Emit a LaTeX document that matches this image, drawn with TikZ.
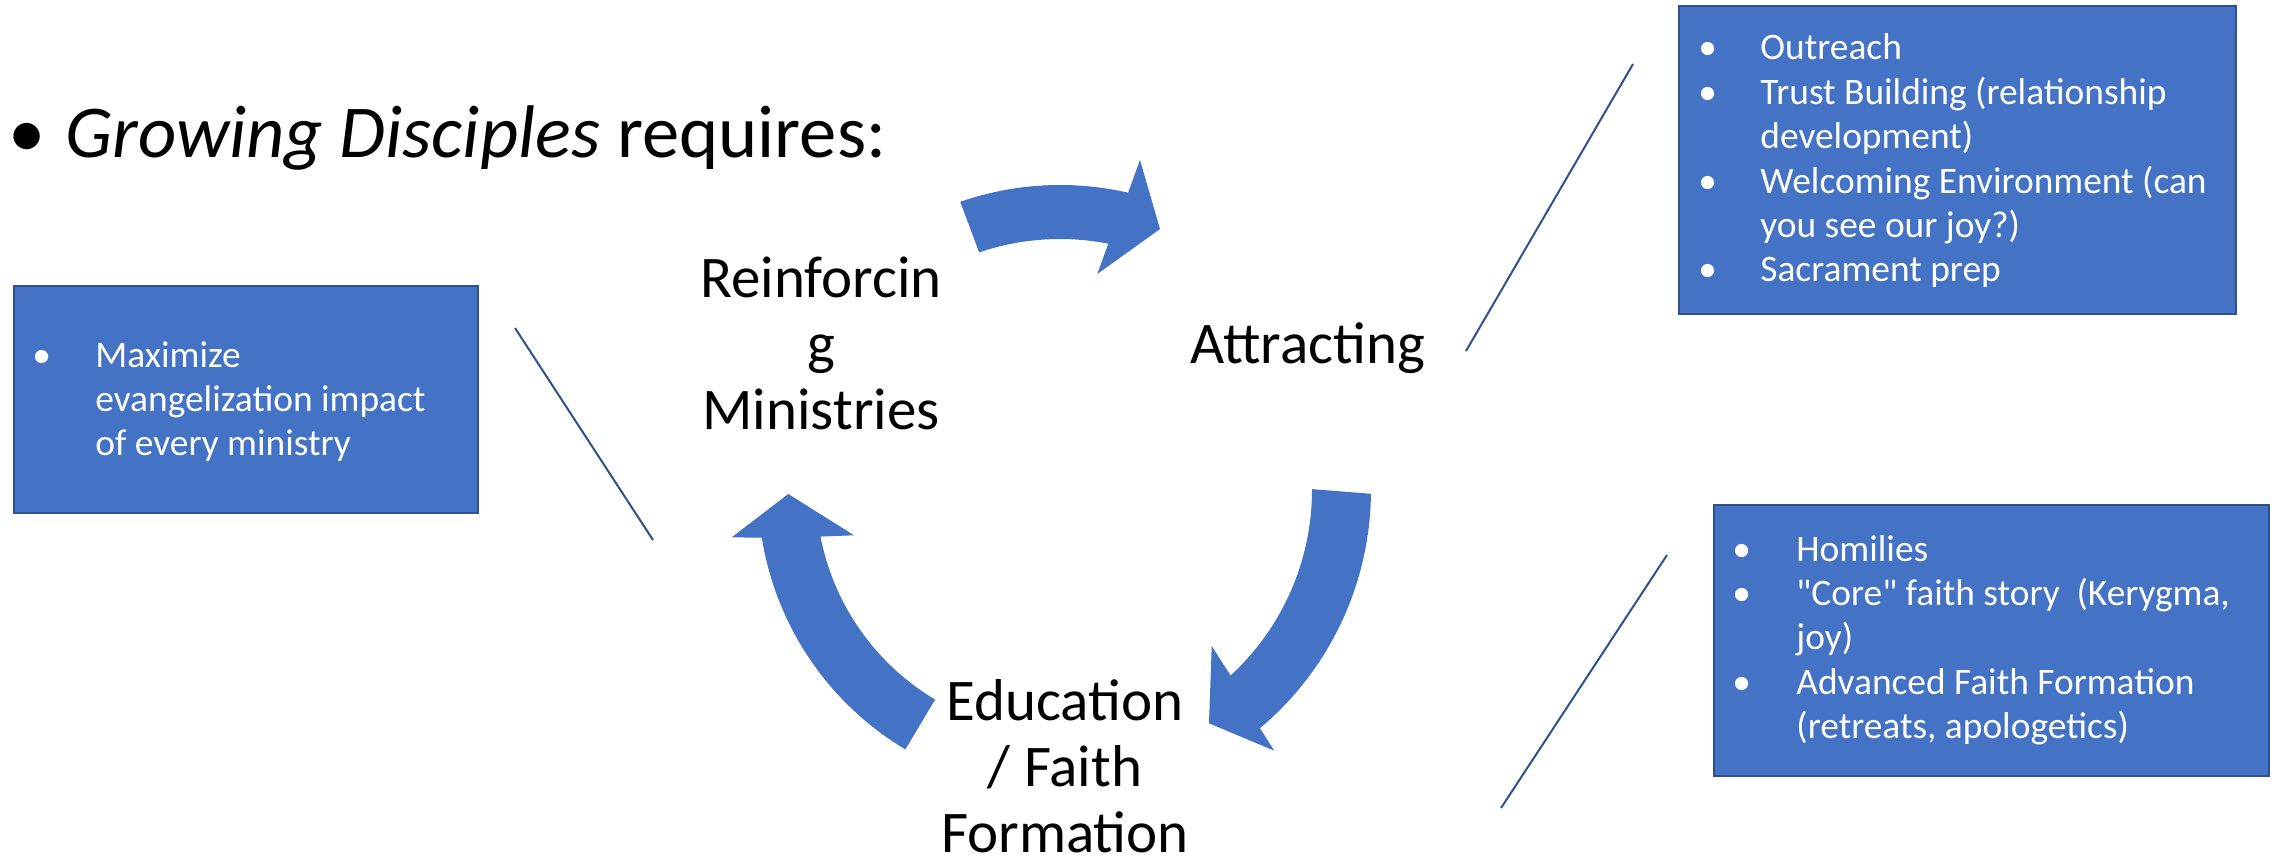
\documentclass[tikz,border=0pt]{standalone}
\usepackage{fontspec}
\setmainfont{Carlito}
\newcommand{\straightquote}{{\XeTeXglyph\XeTeXcharglyph"22\relax}}
\definecolor{boxblue}{HTML}{4472C4}
\definecolor{boxedge}{HTML}{2F528F}
\definecolor{linkblue}{HTML}{2F528F}
\tikzset{
  x=0.5pt, y=-0.5pt,
  panel/.style={draw=boxedge, line width=1.2pt, fill=boxblue, rectangle, inner sep=0pt, anchor=north west},
  paneltext/.style={text=white, inner sep=0pt, anchor=base west, font=\fontsize{18.7}{22.2}\selectfont},
  stagelabel/.style={text=black, inner sep=0pt, anchor=base, font=\fontsize{29.5}{33}\selectfont},
  titletext/.style={text=black, inner sep=0pt, anchor=base west, font=\fontsize{37.3}{44}\selectfont},
  cyclearrow/.style={fill=boxblue},
  link/.style={draw=linkblue, line width=1pt}
}
\begin{document}
\begin{tikzpicture}
\useasboundingbox (0,0) rectangle (2285,856);
\fill[white] (0,0) rectangle (2285,856);

% title
\node[titletext, anchor=base] (bul) at (27,157) {\textbullet};
\node[titletext] (title) at (65,157) {\textit{Growing Disciples} requires:};

% boxes
\node[panel, minimum width=232pt, minimum height=113.5pt] (leftbox) at (13,285) {};
\node[panel, minimum width=278.5pt, minimum height=154pt] (topbox) at (1678,5) {};
\node[panel, minimum width=277.5pt, minimum height=135.5pt] (botbox) at (1713,504) {};

\node[paneltext] (lefttext) at (32,367) {\begin{tabular}[t]{@{}p{31.5pt}@{}l@{}}
\textbullet & Maximize\\
 & evangelization impact\\
 & of every ministry
\end{tabular}};

\node[paneltext] (toptext) at (1698,60) {\begin{tabular}[t]{@{}p{31pt}@{}l@{}}
\textbullet & Outreach\\
\textbullet & Trust Building (relationship\\
 & development)\\
\textbullet & Welcoming Environment (can\\
 & you see our joy?)\\
\textbullet & Sacrament prep
\end{tabular}};

\node[paneltext] (bottext) at (1732,561) {\begin{tabular}[t]{@{}p{32pt}@{}l@{}}
\textbullet & Homilies\\
\textbullet & \straightquote Core\straightquote{} faith story\ \ (Kerygma,\\
 & joy)\\
\textbullet & Advanced Faith Formation\\
 & (retreats, apologetics)
\end{tabular}};

% stage labels
\node[stagelabel] (reinf) at (821,297) {\begin{tabular}[t]{@{}c@{}}Reinforcin\\g\\Ministries\end{tabular}};
\node[stagelabel] (attr) at (1308,363) {Attracting};
\node[stagelabel] (educ) at (1065,720) {\begin{tabular}[t]{@{}c@{}}Education\\/ Faith\\Formation\end{tabular}};

% cycle arrows (centre 1060,490)
\fill[cyclearrow] plot[domain=-109.1:-77.1, samples=40, variable=\t] ({1060+305*cos(\t)},{490+305*sin(\t)})
  -- (1140,160) -- (1160,229) -- (1097.3,274)
  -- plot[domain=-78.9:-108.8, samples=40, variable=\t] ({1060+251*cos(\t)},{490+251*sin(\t)}) -- cycle;
\fill[cyclearrow] plot[domain=0.7:50, samples=40, variable=\t] ({1060+311*cos(\t)},{490+311*sin(\t)})
  -- (1274.3,750.7) -- (1209,723.3) -- (1211.7,646)
  -- plot[domain=47.4:-0.2, samples=40, variable=\t] ({1060+252*cos(\t)},{490+252*sin(\t)}) -- cycle;
\fill[cyclearrow] plot[domain=120.8:170.9, samples=40, variable=\t] ({1060+302*cos(\t)},{490+302*sin(\t)})
  -- (731.7,537.3) -- (788.3,494) -- (854,535.3)
  -- plot[domain=169:120.8, samples=40, variable=\t] ({1060+244*cos(\t)},{490+244*sin(\t)}) -- cycle;

% thin connector lines
\coordinate (la1) at (515,328);
\coordinate (la2) at (653,540);
\coordinate (lb1) at (1633,64);
\coordinate (lb2) at (1466,351);
\coordinate (lc1) at (1667,555);
\coordinate (lc2) at (1501,808);
\draw[link] (la1) -- (la2);
\draw[link] (lb1) -- (lb2);
\draw[link] (lc1) -- (lc2);
\end{tikzpicture}
\end{document}
